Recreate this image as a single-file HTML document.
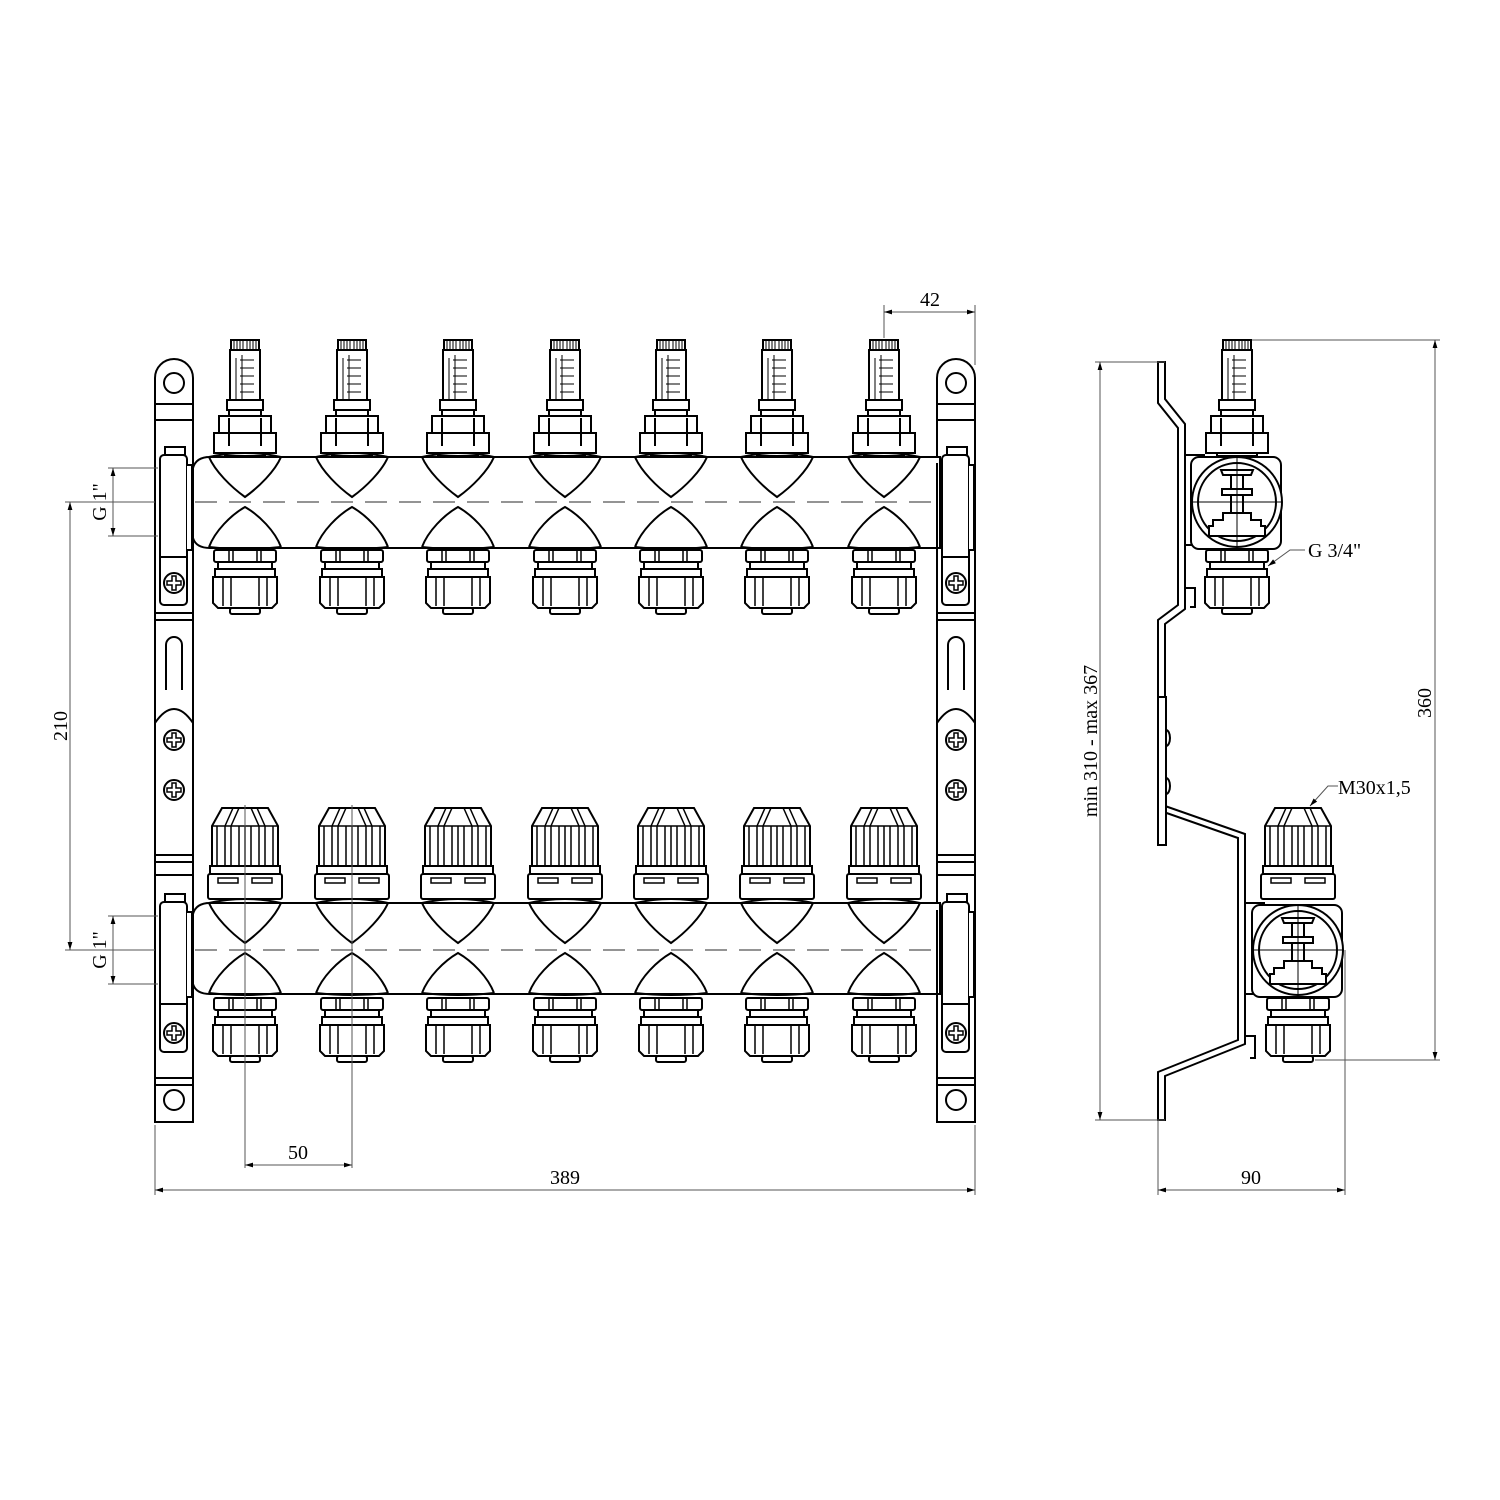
<!DOCTYPE html>
<html><head><meta charset="utf-8"><style>
html,body{margin:0;padding:0;background:#fff}
svg{display:block}
text{font-family:"Liberation Serif",serif;font-size:20px;fill:#000}
</style></head><body>
<svg width="1500" height="1500" viewBox="0 0 1500 1500" xmlns="http://www.w3.org/2000/svg">
<defs>
  <marker id="ar" viewBox="0 0 10 10" refX="10" refY="5" markerWidth="12" markerHeight="8" orient="auto-start-reverse" markerUnits="userSpaceOnUse"><path d="M0,2 L10,5 L0,8 z" fill="#000"/></marker>
  <g id="flow" fill="#fff" stroke="#000" stroke-width="2">
    <rect x="-14" y="340" width="28" height="10"/>
    <path d="M-11,341v8M-8,341v8M-5,341v8M-2,341v8M2,341v8M5,341v8M8,341v8M11,341v8" stroke-width="1"/>
    <rect x="-15" y="350" width="30" height="52"/>
    <path d="M-9,358v47M-3,355v47M9,360h-14M9,368h-14M9,376h-14M9,384h-14M9,392h-14" stroke-width="1" fill="none"/>
    <rect x="-18" y="400" width="36" height="10"/>
    <rect x="-16" y="410" width="32" height="6"/>
    <rect x="-26" y="416" width="52" height="17"/>
    <rect x="-31" y="433" width="62" height="20"/>
    <path d="M-16,418v28M16,418v28" fill="none"/>
    <rect x="-20" y="453" width="40" height="3"/>
  </g>
  <g id="therm" fill="#fff" stroke="#000" stroke-width="2">
    <path d="M-23,808 H23 L33,826 V866 H-33 V826 Z"/>
    <path d="M-33,826H33M-28,826V866M-20,826V866M-14,826V866M-6,826V866M0,826V866M6,826V866M14,826V866M20,826V866M28,826V866M-20,826L-12,808M-14,826L-6,808M14,826L6,808M20,826L12,808" fill="none" stroke-width="1.5"/>
    <rect x="-35" y="866" width="70" height="8"/>
    <rect x="-37" y="874" width="74" height="25" rx="2"/>
    <rect x="-27" y="878" width="20" height="5" stroke-width="1.5"/>
    <rect x="7" y="878" width="20" height="5" stroke-width="1.5"/>
  </g>
  <g id="fit" fill="#fff" stroke="#000" stroke-width="2">
    <rect x="-31" y="0" width="62" height="12" rx="2"/>
    <path d="M-16,0v12M16,0v12M-12,0v12M12,0v12" stroke-width="1.5"/>
    <rect x="-27" y="12" width="54" height="7"/>
    <rect x="-30" y="19" width="60" height="8"/>
    <path d="M-32,27 H32 V53 L27,58 H-27 L-32,53 Z"/>
    <path d="M-22,27V56M22,27V56M-14,27V56M14,27V56" stroke-width="1.5"/>
    <rect x="-15" y="58" width="30" height="6" rx="2"/>
  </g>
  <g id="cuts" fill="none" stroke="#000" stroke-width="2">
    <path d="M-36,0 C-30,14 -14,30 0,40 C14,30 30,14 36,0"/>
    <path d="M-36,0 Q0,-8 36,0"/>
    <path d="M-36,90 C-30,74 -14,58 0,50 C14,58 30,74 36,90"/>
    <path d="M-36,90 Q0,94 36,90"/>
  </g>
  <g id="brk" fill="#fff" stroke="#000" stroke-width="2">
    <path d="M-19,1122 V378 A19,19 0 0 1 19,378 V1122 Z"/>
    <circle cx="0" cy="383" r="10"/>
    <path d="M-19,404H19M-19,420H19M-19,613H19M-19,620H19M-19,855H19M-19,862H19M-19,875H19M-19,1078H19M-19,1085H19"/>
    <circle cx="0" cy="1100" r="10"/>
    <path d="M-8,690V645A8,8 0 0 1 8,645V690" />
    <path d="M-19,723 Q0,695 19,723"/>
  </g>
  <g id="clamp" fill="#fff" stroke="#000" stroke-width="2">
    <rect x="-9" y="-8" width="20" height="8" />
    <rect x="-14" y="0" width="27" height="150" rx="4"/>
    <path d="M-14,102H13M-19,8V92"/>
    <path d="M13,10H18V95H13"/>
  </g>
  <g id="scr" fill="#fff" stroke="#000" stroke-width="2">
    <circle r="10"/>
    <path d="M-2,-7H2V-2H7V2H2V7H-2V2H-7V-2H-2Z" stroke-width="1.5"/>
  </g>
  <g id="sidebody" fill="#fff" stroke="#000" stroke-width="2">
    <rect x="-46" y="-45" width="90" height="92" rx="8"/>
    <circle r="45"/>
    <circle r="39"/>
    <path d="M-16,-32H16L14,-27H-14Z"/>
    <rect x="-6" y="-27" width="12" height="14"/>
    <rect x="-15" y="-13" width="30" height="6"/>
    <rect x="-6" y="-7" width="12" height="18"/>
    <path d="M-14,11H14V18H24V24H28V34H-28V24H-24V18H-14Z"/>
    <path d="M0,-44V44M-44,0H44" stroke-width="1"/>
  </g>
</defs>

<g stroke="#000" fill="none">
<use href="#brk" x="174"/>
<use href="#brk" x="956"/>

<g fill="#fff" stroke-width="2">
  <path d="M193,468 Q196,457 210,457 H940 V548 H210 Q196,548 193,538 Z"/>
  <path d="M193,914 Q196,903 210,903 H940 V994 H210 Q196,994 193,984 Z"/>
</g>
<use href="#clamp" x="174" y="455"/>
<use href="#clamp" x="956" y="455"/>
<use href="#clamp" x="174" y="902"/>
<use href="#clamp" x="956" y="902"/>
<g>
<use href="#scr" x="174" y="583"/><use href="#scr" x="174" y="740"/><use href="#scr" x="174" y="790"/><use href="#scr" x="174" y="1033"/>
<use href="#scr" x="956" y="583"/><use href="#scr" x="956" y="740"/><use href="#scr" x="956" y="790"/><use href="#scr" x="956" y="1033"/>
</g>

<g>
<use href="#flow" x="245"/><use href="#flow" x="352"/><use href="#flow" x="458"/><use href="#flow" x="565"/><use href="#flow" x="671"/><use href="#flow" x="777"/><use href="#flow" x="884"/>
<use href="#cuts" x="245" y="457"/><use href="#cuts" x="352" y="457"/><use href="#cuts" x="458" y="457"/><use href="#cuts" x="565" y="457"/><use href="#cuts" x="671" y="457"/><use href="#cuts" x="777" y="457"/><use href="#cuts" x="884" y="457"/>
<use href="#fit" x="245" y="550"/><use href="#fit" x="352" y="550"/><use href="#fit" x="458" y="550"/><use href="#fit" x="565" y="550"/><use href="#fit" x="671" y="550"/><use href="#fit" x="777" y="550"/><use href="#fit" x="884" y="550"/>
</g>
<g>
<use href="#therm" x="245"/><use href="#therm" x="352"/><use href="#therm" x="458"/><use href="#therm" x="565"/><use href="#therm" x="671"/><use href="#therm" x="777"/><use href="#therm" x="884"/>
<use href="#cuts" x="245" y="903"/><use href="#cuts" x="352" y="903"/><use href="#cuts" x="458" y="903"/><use href="#cuts" x="565" y="903"/><use href="#cuts" x="671" y="903"/><use href="#cuts" x="777" y="903"/><use href="#cuts" x="884" y="903"/>
<use href="#fit" x="245" y="998"/><use href="#fit" x="352" y="998"/><use href="#fit" x="458" y="998"/><use href="#fit" x="565" y="998"/><use href="#fit" x="671" y="998"/><use href="#fit" x="777" y="998"/><use href="#fit" x="884" y="998"/>
</g>

<g stroke="#555" stroke-width="1.2" stroke-dasharray="22,12">
  <path d="M195,502H940M195,950H940"/>
</g>
<g stroke="#555" stroke-width="1">
  <path d="M245,805V1168M352,805V1168"/>
</g>

<g stroke="#555" stroke-width="1">
  <path d="M884,338V305M975,365V305"/>
  <path d="M884,312H975" marker-start="url(#ar)" marker-end="url(#ar)"/>
  <path d="M155,1125V1195M975,1125V1195"/>
  <path d="M155,1190H975" marker-start="url(#ar)" marker-end="url(#ar)"/>
  <path d="M245,1165H352" marker-start="url(#ar)" marker-end="url(#ar)"/>
  <path d="M65,502H155M65,950H155"/>
  <path d="M70,502V950" marker-start="url(#ar)" marker-end="url(#ar)"/>
  <path d="M108,468H158M108,536H158M108,916H158M108,984H158"/>
  <path d="M113,468V536" marker-start="url(#ar)" marker-end="url(#ar)"/>
  <path d="M113,916V984" marker-start="url(#ar)" marker-end="url(#ar)"/>
</g>
<text x="930" y="306" text-anchor="middle" stroke="none">42</text>
<text x="565" y="1184" text-anchor="middle" stroke="none">389</text>
<text x="298" y="1159" text-anchor="middle" stroke="none">50</text>
<text transform="translate(67,726) rotate(-90)" text-anchor="middle" stroke="none">210</text>
<text transform="translate(106,502) rotate(-90)" text-anchor="middle" stroke="none">G 1"</text>
<text transform="translate(106,950) rotate(-90)" text-anchor="middle" stroke="none">G 1"</text>

<g fill="none" stroke="#000" stroke-width="2">
  <path d="M1158,362 V403 L1178,428 V605 L1158,620 V810 L1238,838 V1040 L1158,1072 V1120 H1165 V1076 L1245,1044 V834 L1165,806 V624 L1185,609 V424 L1165,399 V362 Z" fill="#fff"/>
  <rect x="1158" y="697" width="8" height="148" fill="#fff"/>
  <path d="M1166,730 a4,8 0 0 1 0,16 M1166,778 a4,8 0 0 1 0,16"/>
  <path d="M1185,455 H1205 M1185,588 V545 H1205 M1185,588 H1195 V607 H1190"/>
  <path d="M1245,903 H1265 M1245,1036 V994 H1265 M1245,1036 H1255 V1058 H1250"/>
</g>
<use href="#flow" x="1237"/>
<use href="#sidebody" x="1237" y="502"/>
<use href="#fit" x="1237" y="550"/>
<use href="#therm" x="1298"/>
<use href="#sidebody" x="1298" y="950"/>
<use href="#fit" x="1298" y="998"/>

<g stroke="#555" stroke-width="1" fill="none">
  <path d="M1165,362H1095M1165,1120H1095"/>
  <path d="M1100,362V1120" marker-start="url(#ar)" marker-end="url(#ar)"/>
  <path d="M1252,340H1440M1315,1060H1440"/>
  <path d="M1435,340V1060" marker-start="url(#ar)" marker-end="url(#ar)"/>
  <path d="M1158,1120V1195M1345,950V1195"/>
  <path d="M1158,1190H1345" marker-start="url(#ar)" marker-end="url(#ar)"/>
  <path d="M1305,550H1290L1268,566" marker-end="url(#ar)"/>
  <path d="M1338,786H1328L1310,806" marker-end="url(#ar)"/>
</g>
<text transform="translate(1097,741) rotate(-90)" text-anchor="middle" stroke="none">min 310 - max 367</text>
<text transform="translate(1431,703) rotate(-90)" text-anchor="middle" stroke="none">360</text>
<text x="1251" y="1184" text-anchor="middle" stroke="none">90</text>
<text x="1308" y="557" stroke="none">G 3/4"</text>
<text x="1338" y="794" stroke="none">M30x1,5</text>
</g>
</svg>
</body></html>
